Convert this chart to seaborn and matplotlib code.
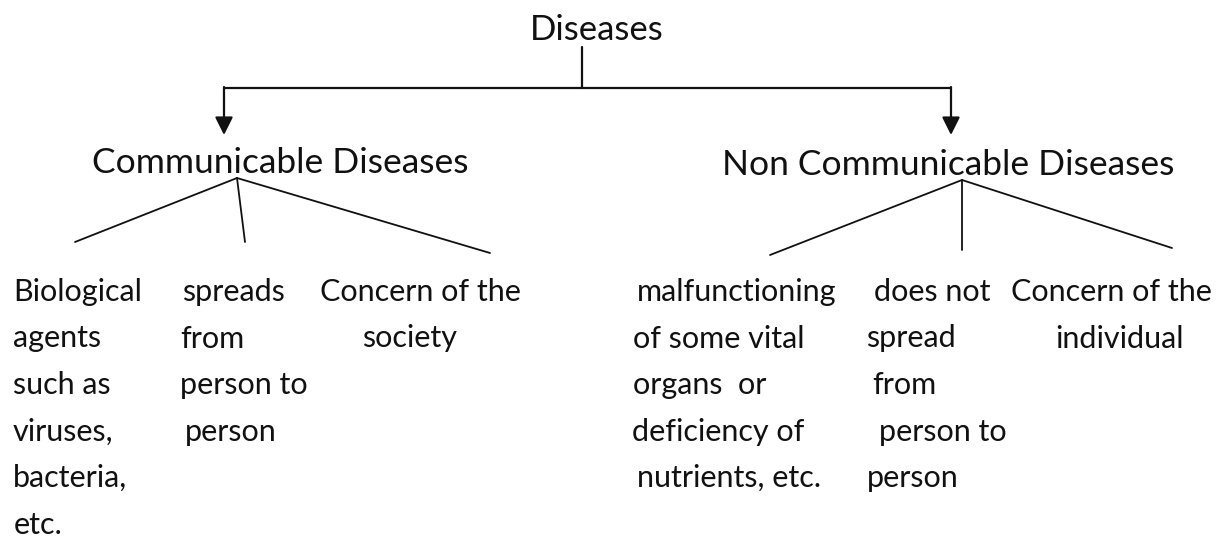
import matplotlib
matplotlib.use("Agg")
import matplotlib.pyplot as plt
import seaborn as sns

# textes du schéma
root = "Diseases"
branches = ["Communicable Diseases", "Non Communicable Diseases"]
comm_items = [
    ["Biological", "agents", "such as", "viruses,", "bacteria,", "etc."],
    ["spreads", "from", "person to", "person"],
    ["Concern of the", "society"],
]
noncomm_items = [
    ["malfunctioning", "of some vital", "organs  or", "deficiency of", "nutrients, etc."],
    ["does not", "spread", "from", "person to", "person"],
    ["Concern of the", "individual"],
]

# mise en page (pixels, origine en haut à gauche)
W, H = 1221, 537
root_xy = (597, 30)
branch_xy = [(280, 163), (948, 165)]
apex = [(237, 178), (962, 180)]
leaf_ends = [[(75, 242), (245, 242), (490, 253)],
             [(770, 255), (962, 250), (1172, 248)]]
comm_x = [[13, 13, 13, 13, 13, 14], [182, 180, 180, 185], [320, 362]]
noncomm_x = [[637, 633, 633, 632, 637], [874, 866, 872, 879, 867], [1011, 1055]]
row_y0 = 292
row_dy = 46.5

sns.set_theme(style="white")
plt.rcParams["font.family"] = ["Lato", "DejaVu Sans"]

fig = plt.figure(figsize=(W / 100, H / 100), dpi=100)
ax = fig.add_axes([0, 0, 1, 1])
ax.set_xlim(0, W)
ax.set_ylim(H, 0)
ax.axis("off")

lc = "#111111"
lw = 1.6

# racine
ax.text(*root_xy, root, ha="center", va="center", fontsize=25, color=lc)
ax.plot([582, 582], [47, 88], color=lc, lw=lw)
ax.plot([224, 951], [88, 88], color=lc, lw=lw)
for x in (224, 951):
    ax.annotate("", xy=(x, 135), xytext=(x, 87),
                arrowprops=dict(arrowstyle="-|>,head_length=0.9,head_width=0.45",
                                color=lc, lw=lw, shrinkA=0, shrinkB=0))

# branches
for label, (bx, by) in zip(branches, branch_xy):
    ax.text(bx, by, label, ha="center", va="center", fontsize=25.5, color=lc)

# lignes vers les feuilles
for (axp, ayp), ends in zip(apex, leaf_ends):
    for ex, ey in ends:
        ax.plot([axp, ex], [ayp, ey], color=lc, lw=1.3)

# feuilles
for groups, xs_groups in zip([comm_items, noncomm_items], [comm_x, noncomm_x]):
    for lines, xs in zip(groups, xs_groups):
        for i, (line, x) in enumerate(zip(lines, xs)):
            ax.text(x, row_y0 + i * row_dy, line, ha="left", va="center",
                    fontsize=22, color=lc)

plt.savefig("out.png", dpi=100, facecolor="white")
